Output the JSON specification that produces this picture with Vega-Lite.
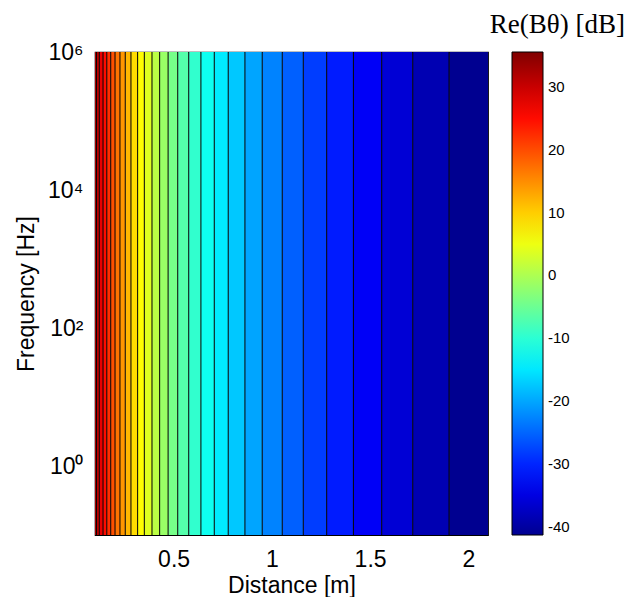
{
  "$schema": "https://vega.github.io/schema/vega-lite/v6.json",
  "width": 393,
  "height": 483,
  "autosize": {"type": "none"},
  "padding": {"left": 95, "top": 52, "right": 151, "bottom": 62},
  "title": {"text": "Re(Bθ) [dB]", "font": "Liberation Serif", "fontSize": 27, "fontWeight": "normal", "anchor": "end", "frame": "group", "dx": 137, "offset": 2, "color": "black"},
  "datasets": {
    "bands": [
      {"d0": 0.1, "d1": 0.108, "v": 32.93},
      {"d0": 0.108, "d1": 0.122, "v": 30.28},
      {"d0": 0.122, "d1": 0.141, "v": 27.63},
      {"d0": 0.141, "d1": 0.160, "v": 24.98},
      {"d0": 0.160, "d1": 0.180, "v": 22.32},
      {"d0": 0.180, "d1": 0.202, "v": 19.67},
      {"d0": 0.202, "d1": 0.227, "v": 17.02},
      {"d0": 0.227, "d1": 0.254, "v": 14.36},
      {"d0": 0.254, "d1": 0.283, "v": 11.71},
      {"d0": 0.283, "d1": 0.317, "v": 9.06},
      {"d0": 0.317, "d1": 0.351, "v": 6.40},
      {"d0": 0.351, "d1": 0.390, "v": 3.75},
      {"d0": 0.390, "d1": 0.429, "v": 1.10},
      {"d0": 0.429, "d1": 0.472, "v": -1.56},
      {"d0": 0.472, "d1": 0.521, "v": -4.21},
      {"d0": 0.521, "d1": 0.577, "v": -6.86},
      {"d0": 0.577, "d1": 0.639, "v": -9.51},
      {"d0": 0.639, "d1": 0.707, "v": -12.17},
      {"d0": 0.707, "d1": 0.778, "v": -14.82},
      {"d0": 0.778, "d1": 0.863, "v": -17.47},
      {"d0": 0.863, "d1": 0.951, "v": -20.13},
      {"d0": 0.951, "d1": 1.053, "v": -22.78},
      {"d0": 1.053, "d1": 1.160, "v": -25.43},
      {"d0": 1.160, "d1": 1.279, "v": -28.09},
      {"d0": 1.279, "d1": 1.415, "v": -30.74},
      {"d0": 1.415, "d1": 1.559, "v": -33.39},
      {"d0": 1.559, "d1": 1.717, "v": -36.04},
      {"d0": 1.717, "d1": 1.902, "v": -38.70},
      {"d0": 1.902, "d1": 2.1, "v": -41.35}
    ]
  },
  "data": {"name": "bands"},
  "layer": [
    {
      "mark": {"type": "rect", "stroke": null},
      "encoding": {
        "x": {"field": "d0", "type": "quantitative",
          "scale": {"domain": [0.1, 2.1], "nice": false, "zero": false},
          "axis": {"values": [0.5, 1, 1.5, 2], "format": "~g", "title": "Distance [m]", "grid": false, "domain": false, "tickSize": 0, "labelPadding": 13, "titlePadding": 3, "zindex": 2}},
        "x2": {"field": "d1"},
        "y": {"datum": 0.1, "type": "quantitative",
          "scale": {"type": "log", "domain": [0.1, 1000000], "nice": false},
          "axis": {"values": [1, 100, 10000, 1000000], "labelExpr": "datum.value == 1 ? '10⁰' : datum.value == 100 ? '10²' : datum.value == 10000 ? '10⁴' : '10⁶'", "title": "Frequency [Hz]", "grid": false, "domain": false, "tickSize": 0, "labelPadding": 12, "labelDy": 6, "titlePadding": 9, "zindex": 2}},
        "y2": {"datum": 1000000},
        "color": {"field": "v", "type": "quantitative",
          "scale": {"type": "linear", "domain": [-41.35, -32.8, -13.26, 6.28, 25.83, 35.6], "range": ["#000090", "#0000ff", "#00ffff", "#ffff00", "#ff0000", "#800000"], "interpolate": "rgb"},
          "legend": {"title": null, "orient": "none", "legendX": 417, "legendY": 0, "direction": "vertical", "gradientLength": 483, "gradientThickness": 31, "values": [-40, -30, -20, -10, 0, 10, 20, 30], "labelExpr": "datum.value < 0 ? '-' + abs(datum.value) : '' + datum.value", "labelOverlap": false, "labelFontSize": 15, "labelFont": "Liberation Sans", "labelColor": "black", "gradientStrokeColor": "black", "gradientStrokeWidth": 1, "padding": 0, "labelOffset": 5}}
      }
    },
    {
      "transform": [{"filter": "datum.d1 < 2.1"}],
      "mark": {"type": "rule", "color": "black", "strokeWidth": 1},
      "encoding": {
        "x": {"field": "d1", "type": "quantitative"}
      }
    }
  ],
  "config": {
    "view": {"stroke": "black", "strokeWidth": 1.2},
    "axis": {"labelFont": "Liberation Sans", "labelFontSize": 23, "labelColor": "black", "titleFont": "Liberation Sans", "titleFontSize": 23, "titleFontWeight": "normal", "titleColor": "black"}
  }
}
